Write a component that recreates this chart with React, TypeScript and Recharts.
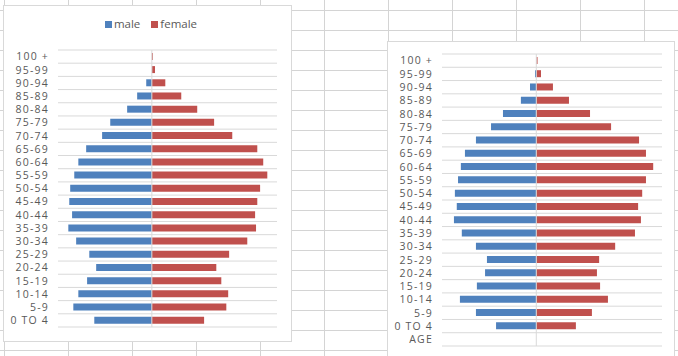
import React from "react";
import {
  BarChart,
  Bar,
  XAxis,
  YAxis,
  CartesianGrid,
  Legend,
  ReferenceLine,
} from "recharts";

// age groups, top of the pyramid first
const ageGroups = [
  "100 +", "95-99", "90-94", "85-89", "80-84", "75-79", "70-74",
  "65-69", "60-64", "55-59", "50-54", "45-49", "40-44", "35-39",
  "30-34", "25-29", "20-24", "15-19", "10-14", "5-9", "0 TO 4",
];
const ageGroupsRight = [...ageGroups, "AGE"];

// left pyramid (shares, %)
const maleLeft = [
  0, 0, 0.18, 0.47, 0.79, 1.33, 1.59, 2.1, 2.35, 2.48, 2.61,
  2.64, 2.55, 2.67, 2.42, 2.0, 1.78, 2.07, 2.35, 2.51, 1.84,
];
const femaleLeft = [
  0.03, 0.1, 0.43, 0.94, 1.45, 1.99, 2.57, 3.37, 3.56, 3.69, 3.46,
  3.37, 3.3, 3.33, 3.05, 2.47, 2.06, 2.22, 2.44, 2.38, 1.67,
];

// right pyramid (shares, %), the "AGE" row is empty
const maleRight = [
  0, 0.04, 0.2, 0.49, 1.06, 1.44, 1.92, 2.27, 2.4, 2.49, 2.59,
  2.53, 2.62, 2.37, 1.92, 1.57, 1.63, 1.89, 2.43, 1.92, 1.28, null,
];
const femaleRight = [
  0.04, 0.15, 0.53, 1.04, 1.71, 2.38, 3.27, 3.49, 3.72, 3.49, 3.37,
  3.24, 3.33, 3.14, 2.51, 2.0, 1.93, 2.03, 2.28, 1.77, 1.26, null,
];

const valueDomain: [number, number] = [-3, 4];
const seriesOrder = ["male", "female"];

const MALE = "#4F81BD";
const FEMALE = "#C0504D";
const TEXT = "#595959";
const LINE = "#D9D9D9";
const FONT = "'Open Sans', sans-serif";

// gridlines on the boundaries between categories, like Excel draws them
const bandEdges = (count: number) => ({ offset }: any) =>
  Array.from({ length: count + 1 }, (_, i) => offset.top + (i * offset.height) / count);

// Excel's category labels are spaced out a little
const AgeTick = ({ x, y, payload }: any) => (
  <text
    x={x}
    y={y}
    dy="0.36em"
    textAnchor="end"
    fill={TEXT}
    fontSize={10.5}
    fontFamily={FONT}
    letterSpacing={1.2}
  >
    {payload.value}
  </text>
);

const LegendRow = ({ payload }: any) => {
  const items = [...(payload || [])].sort(
    (a: any, b: any) => seriesOrder.indexOf(a.dataKey) - seriesOrder.indexOf(b.dataKey),
  );
  return (
    <div style={{ display: "flex", justifyContent: "center", paddingLeft: 18 }}>
      {items.map((item: any) => (
        <span key={item.value} style={{ display: "flex", alignItems: "center", marginRight: 11 }}>
          <span
            style={{ width: 7, height: 7, background: item.color, marginRight: 2, marginTop: 1 }}
          />
          <span style={{ color: TEXT }}>{item.value}</span>
        </span>
      ))}
    </div>
  );
};

type PyramidProps = {
  categories: string[];
  male: (number | null)[];
  female: (number | null)[];
  width: number;
  height: number;
  margin: { top: number; right: number; bottom: number; left: number };
  showLegend?: boolean;
};

function Pyramid({ categories, male, female, width, height, margin, showLegend }: PyramidProps) {
  const rows = categories.map((age, i) => ({
    age,
    male: male[i] == null ? null : -(male[i] as number),
    female: female[i],
  }));

  return (
    <BarChart
      width={width}
      height={height}
      data={rows}
      layout="vertical"
      stackOffset="sign"
      barCategoryGap="22%"
      margin={margin}
    >
      <CartesianGrid
        vertical={false}
        stroke={LINE}
        horizontalCoordinatesGenerator={bandEdges(rows.length)}
      />
      <XAxis type="number" domain={valueDomain} hide />
      <YAxis
        type="category"
        dataKey="age"
        width={55}
        interval={0}
        axisLine={false}
        tickLine={false}
        tickMargin={3}
        tick={<AgeTick />}
      />
      {showLegend && (
        <Legend
          layout="horizontal"
          align="center"
          verticalAlign="middle"
          content={<LegendRow />}
          wrapperStyle={{
            top: 12,
            left: 0,
            width,
            fontFamily: FONT,
            fontSize: 11.5,
            lineHeight: "14px",
          }}
        />
      )}
      <Bar dataKey="male" name="male" stackId="pop" fill={MALE} isAnimationActive={false} />
      <Bar dataKey="female" name="female" stackId="pop" fill={FEMALE} isAnimationActive={false} />
      <ReferenceLine x={0} stroke={LINE} />
    </BarChart>
  );
}

const panel: React.CSSProperties = {
  position: "absolute",
  background: "#fff",
  border: `1px solid ${LINE}`,
  boxSizing: "border-box",
};

export default function App() {
  return (
    <div
      style={{
        position: "absolute",
        left: 0,
        top: 0,
        width: 678,
        height: 356,
        overflow: "hidden",
        background: "#fff",
        backgroundImage:
          "linear-gradient(to right, #D4D4D4 1px, transparent 1px), linear-gradient(to bottom, #D4D4D4 1px, transparent 1px)",
        backgroundSize: "64px 20px",
        backgroundPosition: "4px 10px",
        fontFamily: FONT,
      }}
    >
      <div style={{ ...panel, left: 3, top: 5, width: 289, height: 337 }} />
      <div style={{ position: "absolute", left: 3, top: 5 }}>
        <Pyramid
          categories={ageGroups}
          male={maleLeft}
          female={femaleLeft}
          width={289}
          height={337}
          margin={{ top: 45, right: 15, bottom: 15, left: 0 }}
          showLegend
        />
      </div>

      <div style={{ ...panel, left: 387, top: 41, width: 288, height: 330 }} />
      <div style={{ position: "absolute", left: 387, top: 41 }}>
        <Pyramid
          categories={ageGroupsRight}
          male={maleRight}
          female={femaleRight}
          width={288}
          height={330}
          margin={{ top: 13, right: 13, bottom: 25, left: 0 }}
        />
      </div>
    </div>
  );
}
